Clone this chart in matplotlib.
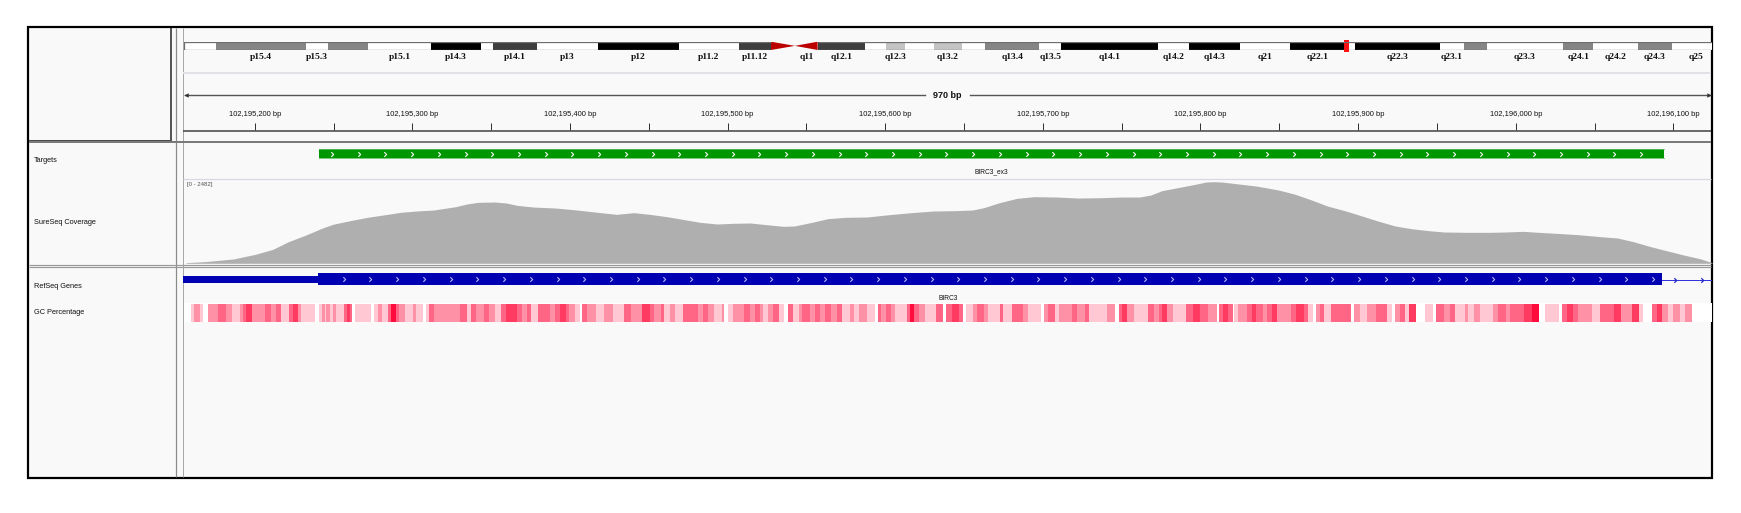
import matplotlib
matplotlib.use("Agg")
import matplotlib.pyplot as plt
import numpy as np
from matplotlib.path import Path
from matplotlib.patches import Rectangle, Polygon
from matplotlib.colors import LinearSegmentedColormap, Normalize

plt.rcParams['font.family'] = ['Liberation Sans', 'DejaVu Sans']

W, H = 1741, 513
PX = 72 / 100  # points per pixel at dpi 100

# --- view window (chr11, hg19) ---
WIN_START = 102195154.5
WIN_BP = 970
WIN_END = WIN_START + WIN_BP
RULER_TICKS = np.arange(102195200, 102196125, 50)

# --- chr11 cytobands (Mb) ---
BAND_NAME = ["p15.5", "p15.4", "p15.3", "p15.2", "p15.1", "p14.3", "p14.2", "p14.1", "p13", "p12",
             "p11.2", "p11.12", "p11.11", "q11", "q12.1", "q12.2", "q12.3", "q13.1", "q13.2", "q13.3",
             "q13.4", "q13.5", "q14.1", "q14.2", "q14.3", "q21", "q22.1", "q22.2", "q22.3", "q23.1",
             "q23.2", "q23.3", "q24.1", "q24.2", "q24.3", "q25"]
BAND_START = [0.0, 2.8, 10.7, 12.7, 16.2, 21.7, 26.1, 27.2, 31.0, 36.4,
              43.5, 48.8, 51.6, 53.7, 55.7, 59.9, 61.7, 63.4, 65.9, 68.4,
              70.4, 75.2, 77.1, 85.6, 88.3, 92.8, 97.2, 102.1, 102.9, 110.4,
              112.5, 114.5, 121.2, 123.9, 127.8, 130.8]
BAND_END = BAND_START[1:] + [135.0]
BAND_STAIN = ["gneg", "gpos50", "gneg", "gpos50", "gneg", "gpos100", "gneg", "gpos75", "gneg", "gpos100",
              "gneg", "gpos75", "acen", "acen", "gpos75", "gneg", "gpos25", "gneg", "gpos25", "gneg",
              "gpos50", "gneg", "gpos100", "gneg", "gpos100", "gneg", "gpos100", "gneg", "gpos100", "gneg",
              "gpos50", "gneg", "gpos50", "gneg", "gpos50", "gneg"]
HIDDEN_LABELS = {"p15.5", "p15.2", "p14.2", "p11.11", "q12.2", "q13.1", "q13.3", "q22.2", "q23.2"}
STAIN_COLOR = {"gneg": "#ffffff", "gpos25": "#c4c4c4", "gpos50": "#858585",
               "gpos75": "#3e3e3e", "gpos100": "#000000"}
VIEW_MB = 102.195

# --- target and gene features ---
TARGET_START, TARGET_END = 102195241, 102196094
TARGET_NAME = "BIRC3_ex3"
EXON_START, CDS_START, EXON_END = 102195150, 102195240, 102196093
GENE_NAME = "BIRC3"
GENE_LABEL_POS = 102195640

# --- coverage (bp offset from window start, depth) ---
COV_POS = [2, 14, 32, 46, 57, 67, 78, 88, 95, 106, 117, 127, 138, 148, 159, 166, 173, 180, 187, 198,
           205, 212, 222, 236, 250, 265, 275, 286, 296, 307, 317, 328, 339, 349, 360, 370, 381, 388, 399, 409,
           420, 434, 448, 462, 476, 490, 501, 508, 518, 529, 540, 554, 568, 582, 596, 607, 614, 621, 631, 642,
           649, 654, 659, 670, 681, 695, 705, 716, 726, 737, 748, 758, 769, 779, 790, 800, 815, 829, 839, 850,
           860, 871, 885, 899, 910, 920, 931, 941, 952, 963, 970]
COV_VAL = [20, 51, 132, 274, 425, 659, 861, 1064, 1185, 1297, 1398, 1469, 1550, 1590, 1621, 1671, 1722, 1803, 1854, 1864,
           1834, 1763, 1712, 1682, 1621, 1540, 1489, 1540, 1489, 1418, 1337, 1246, 1195, 1216, 1226, 1175, 1124, 1135, 1246, 1357,
           1398, 1408, 1479, 1540, 1590, 1601, 1621, 1692, 1844, 1975, 2026, 2016, 1985, 1995, 2016, 2016, 2077, 2208, 2300, 2401,
           2472, 2482, 2472, 2411, 2350, 2229, 2107, 1925, 1742, 1601, 1439, 1286, 1135, 1054, 993, 952, 942, 942, 952, 972,
           942, 912, 871, 811, 770, 659, 507, 385, 253, 132, 20]
COV_MAX = 2482

# --- GC percentage runs (run end as bp offset, shade level 0..5) ---
GC_END = [5, 7, 11, 13, 16, 22, 27, 31, 36, 38, 40, 44, 52, 56, 59, 62, 67, 70, 73, 75,
          84, 86, 88, 90, 91, 93, 95, 97, 102, 104, 106, 107, 109, 119, 121, 124, 126, 130, 132, 135,
          137, 141, 146, 148, 152, 154, 156, 159, 176, 180, 183, 186, 191, 194, 198, 202, 205, 212, 215, 218,
          221, 225, 233, 236, 239, 243, 245, 249, 252, 253, 256, 262, 267, 273, 280, 284, 291, 296, 299, 303,
          305, 309, 312, 317, 324, 327, 330, 333, 337, 342, 343, 346, 349, 356, 360, 363, 366, 368, 371, 374,
          378, 381, 384, 387, 391, 393, 398, 401, 404, 407, 411, 415, 418, 423, 426, 429, 434, 439, 441, 443,
          446, 449, 452, 459, 461, 464, 467, 471, 478, 482, 484, 488, 492, 495, 497, 501, 504, 508, 511, 518,
          520, 526, 533, 536, 544, 546, 549, 553, 556, 564, 567, 572, 575, 586, 591, 594, 596, 599, 603, 612,
          616, 619, 621, 624, 628, 636, 641, 645, 647, 650, 656, 657, 660, 663, 666, 667, 669, 675, 678, 681,
          685, 688, 691, 694, 703, 706, 711, 714, 717, 719, 721, 724, 728, 741, 743, 747, 751, 757, 764, 767,
          769, 772, 775, 778, 782, 788, 793, 795, 800, 804, 807, 813, 815, 819, 823, 831, 834, 839, 842, 851,
          856, 860, 864, 873, 875, 878, 882, 885, 894, 899, 908, 912, 919, 924, 926, 932, 935, 938, 942, 945,
          950, 953, 957, 970]
GC_LEVEL = [0, 1, 2, 1, 0, 2, 3, 2, 1, 2, 3, 4, 2, 3, 2, 3, 1, 3, 4, 2,
            1, 0, 1, 2, 1, 2, 1, 2, 1, 3, 4, 3, 0, 1, 0, 1, 2, 1, 3, 5,
            3, 2, 1, 2, 1, 0, 1, 3, 2, 3, 1, 3, 2, 3, 2, 1, 3, 4, 3, 2,
            3, 1, 3, 2, 3, 4, 3, 2, 1, 0, 3, 2, 1, 2, 1, 3, 2, 4, 3, 2,
            3, 1, 2, 1, 3, 3, 2, 3, 2, 1, 2, 0, 1, 2, 3, 2, 3, 2, 1, 2,
            3, 1, 0, 3, 1, 2, 3, 2, 3, 2, 3, 2, 3, 1, 2, 1, 2, 1, 0, 3,
            2, 3, 2, 1, 3, 5, 3, 2, 1, 3, 0, 3, 4, 3, 0, 1, 2, 3, 2, 1,
            3, 1, 3, 2, 1, 0, 2, 3, 1, 2, 3, 2, 3, 1, 2, 0, 3, 4, 2, 1,
            3, 2, 3, 4, 2, 1, 3, 4, 3, 3, 2, 0, 3, 4, 3, 0, 1, 2, 3, 4,
            3, 2, 3, 4, 2, 3, 4, 3, 1, 0, 2, 3, 1, 3, 0, 2, 1, 2, 3, 1,
            0, 2, 3, 1, 4, 0, 1, 0, 3, 2, 3, 1, 2, 1, 2, 1, 2, 3, 2, 3,
            4, 5, 0, 1, 0, 3, 4, 3, 2, 1, 3, 4, 2, 4, 1, 0, 3, 4, 2, 1,
            2, 1, 2, 0]
GC_PCT_OF_LEVEL = [30, 43, 56, 66, 76, 87]

TRACK_NAMES = ["Targets", "SureSeq Coverage", "RefSeq Genes", "GC Percentage"]
TRACK_NAME_Y = [161, 222, 287, 313]

fig = plt.figure(figsize=(W / 100, H / 100), dpi=100)
fig.patch.set_facecolor("white")


def px_axes(x0, y0, x1, y1):
    ax = fig.add_axes([x0 / W, 1 - y1 / H, (x1 - x0) / W, (y1 - y0) / H])
    ax.set_axis_off()
    return ax


# ---- panel layout (pixel space) ----
base = px_axes(0, 0, W, H)
base.set_xlim(0, W)
base.set_ylim(H, 0)
base.add_patch(Rectangle((28, 27), 1684, 451, fc="#f9f9f9", ec="black", lw=2.2 * PX, zorder=1))
base.add_patch(Rectangle((183, 303), 1529, 19, fc="white", ec="none", zorder=1.5))
lines = [
    ((171, 171), (28, 140.5), "#2e2e2e", 1.6),
    ((176, 176), (28, 477), "#8a8a8a", 1.2),
    ((183, 183), (28, 477), "#a8a8a8", 1.0),
    ((29, 171), (140.5, 140.5), "#4a4a4a", 2.0),
    ((29, 1711), (142, 142), "#7a7a7a", 2.0),
    ((29, 1711), (264.7, 264.7), "#9a9a9a", 1.2),
    ((29, 1711), (267.3, 267.3), "#9a9a9a", 1.2),
    ((183, 1711), (179, 179), "#d8d8e0", 1.2),
    ((183, 1711), (73.2, 73.2), "#e2e2e6", 2.0),
    ((183, 1711), (131, 131), "#4a4a4a", 1.6),
]
for xs, ys, c, lw in lines:
    base.plot(xs, ys, color=c, lw=lw * PX, solid_capstyle="butt", zorder=2)

for name, y in zip(TRACK_NAMES, TRACK_NAME_Y):
    base.text(34, y, name, fontsize=5.3, va="center", ha="left", color="#111111", zorder=3)
base.text(187, 184.5, f"[0 - {COV_MAX}]", fontsize=4.3, va="center", ha="left", color="#555555", zorder=3)

# ---- ideogram ----
ideo = px_axes(184, 41.7, 1712, 50)
ideo.set_xlim(0, (1712 - 184) / 11.376)
ideo.set_ylim(0, 1)
for name, s, e, stain in zip(BAND_NAME, BAND_START, BAND_END, BAND_STAIN):
    if stain == "acen":
        tip = e if name.startswith("p") else s
        root = s if name.startswith("p") else e
        ideo.add_patch(Polygon([(root, 0), (root, 1), (tip, 0.5)], closed=True, fc="#bb0000", ec="none"))
    else:
        ideo.add_patch(Rectangle((s, 0), e - s, 1, fc=STAIN_COLOR[stain], ec="none"))
    if name not in HIDDEN_LABELS:
        ideo.text((s + e) / 2, -0.85, name, transform=ideo.get_xaxis_transform(), ha="center", va="center",
                  fontsize=6.8, fontweight="bold", family=["Liberation Serif", "DejaVu Serif"], color="#111111")
p_end = BAND_START[BAND_NAME.index("p11.11")]
q_start = BAND_END[BAND_NAME.index("q11")]
for x0, x1 in [(0, p_end), (q_start, BAND_END[-1])]:
    ideo.plot([x0, x1], [0.97, 0.97], color="#6e6e6e", lw=1.3 * PX, solid_capstyle="butt")
    ideo.plot([x0, x1], [0.03, 0.03], color="#6e6e6e", lw=1.3 * PX, solid_capstyle="butt")
ideo.plot([0.03, 0.03], [0, 1], color="#6e6e6e", lw=1.3 * PX)
ideo.add_patch(Rectangle((VIEW_MB - 0.2, -0.2), 0.4, 1.4, fc="#ff1010", ec="none", clip_on=False))

# ---- ruler ----
ruler = px_axes(183, 60, 1712, 140)
ruler.set_xlim(WIN_START, WIN_END)
ruler.set_ylim(140, 60)
ruler.vlines(RULER_TICKS, 123, 130, color="#333333", lw=1.0 * PX)
for t in RULER_TICKS[RULER_TICKS % 100 == 0]:
    ruler.text(t, 115, f"{t:,} bp", ha="center", va="center", fontsize=5.4, color="#111111")
mid = WIN_START + WIN_BP / 2
ruler.plot([WIN_START + 1, mid - 14.5], [95, 95], color="#555555", lw=1.4 * PX)
ruler.plot([mid + 14.5, WIN_END - 1], [95, 95], color="#555555", lw=1.4 * PX)
ruler.plot([WIN_START + 2.2], [95], marker="<", ms=3.2, color="#333333", mew=0)
ruler.plot([WIN_END - 2.2], [95], marker=">", ms=3.2, color="#333333", mew=0)
ruler.text(mid, 95, f"{WIN_BP} bp", ha="center", va="center", fontsize=6.5, fontweight="bold", color="#111111")

chevron = Path([(-0.5, 1), (0.5, 0), (-0.5, -1)], [Path.MOVETO, Path.LINETO, Path.LINETO])

# ---- targets ----
tgt = px_axes(183, 143, 1712, 179)
tgt.set_xlim(WIN_START, WIN_END)
tgt.set_ylim(179, 143)
tgt.add_patch(Rectangle((TARGET_START, 149.3), TARGET_END - TARGET_START, 8.6, fc="#009600", ec="none"))
tgt.plot([TARGET_START, TARGET_END], [149.3, 149.3], color="#5cbf5c", lw=0.8 * PX)
tgt.plot([TARGET_START, TARGET_END], [157.9, 157.9], color="#5cbf5c", lw=0.8 * PX)
xs = np.arange(TARGET_START + 8, TARGET_END - 4, 16.95)
tgt.plot(xs, np.full(len(xs), 153.6), ls="none", marker=chevron, ms=3.3, mfc="none", mec="white", mew=0.8)
tgt.text((TARGET_START + TARGET_END) / 2, 172, TARGET_NAME, ha="center", va="center", fontsize=4.8, color="#111111")

# ---- coverage ----
cov = px_axes(183, 181.7, 1712, 263.3)
cov.set_xlim(WIN_START, WIN_END)
cov.set_ylim(0, COV_MAX)
cov.fill_between(WIN_START + np.array(COV_POS), COV_VAL, 0, color="#afafaf", lw=0)

# ---- RefSeq gene ----
gene = px_axes(183, 268, 1712, 300)
gene.set_xlim(WIN_START, WIN_END)
gene.set_ylim(300, 268)
gene.add_patch(Rectangle((EXON_START, 276.3), CDS_START - EXON_START, 6.6, fc="#0000b2", ec="none"))
gene.add_patch(Rectangle((CDS_START, 273.3), EXON_END - CDS_START, 11.8, fc="#0000b2", ec="none"))
gene.plot([EXON_END, WIN_END + 20], [279.5, 279.5], color="#3333dd", lw=1.0 * PX)
xs = np.arange(CDS_START + 16.5, EXON_END - 4, 16.95)
gene.plot(xs, np.full(len(xs), 279.3), ls="none", marker=chevron, ms=3.3, mfc="none", mec="#b4b4ff", mew=0.8)
xs = np.arange(EXON_END + 8, WIN_END, 17)
gene.plot(xs, np.full(len(xs), 279.5), ls="none", marker=chevron, ms=3.3, mfc="none", mec="#2222cc", mew=0.9)
gene.text(GENE_LABEL_POS, 298.5, GENE_NAME, ha="center", va="center", fontsize=4.8, color="#111111")

# ---- GC percentage heat stripes ----
gc = px_axes(183, 303.5, 1712, 321.5)
gc.set_xlim(WIN_START, WIN_END)
gc.set_ylim(0, 1)
gc_cmap = LinearSegmentedColormap.from_list("gc", ["#ffffff", "#ff0033"])
gc_norm = Normalize(30, 90)
gc_start = [0] + GC_END[:-1]
for s, e, lvl in zip(gc_start, GC_END, GC_LEVEL):
    if lvl == 0:
        continue
    gc.bar(WIN_START + s, 1, width=e - s, bottom=0, align="edge", lw=0,
           color=gc_cmap(gc_norm(GC_PCT_OF_LEVEL[lvl])))

fig.savefig("out.png", dpi=100)
